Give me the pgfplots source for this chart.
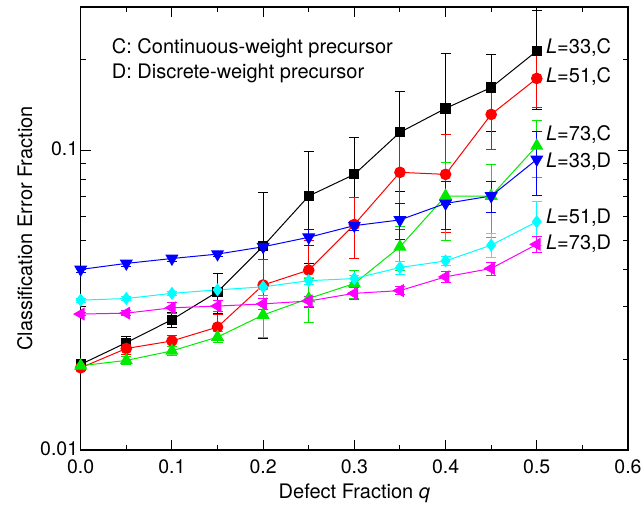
\documentclass[border=0pt]{standalone}
\usepackage{fontspec}
\setmainfont{TeX Gyre Heros}
\usepackage{pgfplots}
\pgfplotsset{compat=1.18}
\usepackage{pgfplotstable}

\definecolor{mygreen}{RGB}{0,235,0}
\definecolor{myblue}{RGB}{0,0,255}
\definecolor{myred}{RGB}{255,0,0}
\definecolor{mycyan}{RGB}{0,255,255}
\definecolor{mymagenta}{RGB}{255,0,255}

\pgfplotstableread{
x y e
0.00 0.0193 0.0005
0.05 0.0228 0.0011
0.10 0.0272 0.0015
0.15 0.0337 0.0051
0.20 0.0478 0.0242
0.25 0.0703 0.0285
0.30 0.0830 0.0275
0.35 0.1146 0.0420
0.40 0.1377 0.0720
0.45 0.1617 0.0460
0.50 0.2140 0.0770
}\dataA

\pgfplotstableread{
x y e
0.00 0.0188 0.0004
0.05 0.0218 0.0010
0.10 0.0231 0.0009
0.15 0.0257 0.0025
0.20 0.0355 0.0078
0.25 0.0398 0.0100
0.30 0.0565 0.0130
0.35 0.0843 0.0300
0.40 0.0830 0.0298
0.45 0.1315 0.0307
0.50 0.1734 0.0346
}\dataB

\pgfplotstableread{
x y e
0.00 0.0191 0.0004
0.05 0.0199 0.0006
0.10 0.0214 0.0008
0.15 0.0238 0.0010
0.20 0.0282 0.0045
0.25 0.0320 0.0053
0.30 0.0359 0.0039
0.35 0.0476 0.0080
0.40 0.0703 0.0205
0.45 0.0703 0.0190
0.50 0.1033 0.0220
}\dataC

\pgfplotstableread{
x y e
0.00 0.0400 0.0008
0.05 0.0419 0.0010
0.10 0.0435 0.0010
0.15 0.0450 0.0008
0.20 0.0476 0.0010
0.25 0.0512 0.0030
0.30 0.0560 0.0020
0.35 0.0585 0.0080
0.40 0.0664 0.0120
0.45 0.0703 0.0085
0.50 0.0931 0.0225
}\dataD

\pgfplotstableread{
x y e
0.00 0.0316 0.0005
0.05 0.0320 0.0005
0.10 0.0333 0.0006
0.15 0.0342 0.0006
0.20 0.0350 0.0008
0.25 0.0367 0.0010
0.30 0.0373 0.0010
0.35 0.0406 0.0020
0.40 0.0427 0.0015
0.45 0.0482 0.0045
0.50 0.0577 0.0095
}\dataE

\pgfplotstableread{
x y e
0.00 0.0284 0.0004
0.05 0.0286 0.0005
0.10 0.0298 0.0012
0.15 0.0302 0.0012
0.20 0.0307 0.0012
0.25 0.0314 0.0012
0.30 0.0333 0.0015
0.35 0.0340 0.0010
0.40 0.0378 0.0015
0.45 0.0403 0.0020
0.50 0.0485 0.0030
}\dataF

\begin{document}
\begin{tikzpicture}[font=\fontsize{20bp}{24bp}\selectfont]
\path[use as bounding box] (0,0) rectangle (642bp,510bp);
\begin{axis}[
  at={(80.7bp,60bp)}, anchor=south west,
  scale only axis, width=547.3bp, height=443bp,
  xmin=0, xmax=0.6, ymode=log, ymin=0.01, ymax=0.3,
  xtick={0,0.1,0.2,0.3,0.4,0.5,0.6},
  minor xtick={0.05,0.15,0.25,0.35,0.45,0.55},
  ytick={0.01,0.1}, yticklabels={0.01,0.1},
  minor ytick={0.02,0.03,0.04,0.05,0.06,0.07,0.08,0.09,0.2,0.3},
  /pgf/number format/assume math mode=true,
  tick label style={font=\fontsize{19.5bp}{23bp}\selectfont},
  xticklabel style={yshift=-6bp, /pgf/number format/.cd, fixed, fixed zerofill, precision=1},
  yticklabel style={xshift=1bp, yshift=1bp},
  label style={font=\fontsize{20bp}{24bp}\selectfont},
  tick align=inside, xtick pos=both, ytick pos=both,
  major tick length=10bp, minor tick length=5bp,
  every tick/.style={black, line width=1bp},
  axis line style={line width=1.5bp},
  xlabel={Defect Fraction \textit{q}},
  ylabel={Classification Error Fraction},
  xlabel style={yshift=-3bp},
  ylabel style={yshift=1bp},
  clip=false,
  error bars/error bar style={line width=1bp},
  error bars/error mark options={rotate=90, mark size=5bp, line width=1bp},
]
\addplot[black, line width=1bp, mark=square*, mark size=4.6bp, mark options={fill=black},
  error bars/.cd, y dir=both, y explicit] table[x=x, y=y, y error=e] {\dataA};
\addplot[myred, line width=1bp, mark=*, mark size=5.3bp, mark options={fill=myred},
  error bars/.cd, y dir=both, y explicit] table[x=x, y=y, y error=e] {\dataB};
\addplot[mygreen, line width=1bp, mark=triangle*, mark size=6.6bp, mark options={fill=mygreen},
  error bars/.cd, y dir=both, y explicit] table[x=x, y=y, y error=e] {\dataC};
\addplot[myblue, line width=1bp, mark=triangle*, mark size=6.6bp, mark options={fill=myblue, rotate=180},
  error bars/.cd, y dir=both, y explicit] table[x=x, y=y, y error=e] {\dataD};
\addplot[mycyan, line width=1bp, mark=diamond*, mark size=5.8bp, mark options={fill=mycyan},
  error bars/.cd, y dir=both, y explicit] table[x=x, y=y, y error=e] {\dataE};
\addplot[mymagenta, line width=1bp, mark=triangle*, mark size=6.6bp, mark options={fill=mymagenta, rotate=90},
  error bars/.cd, y dir=both, y explicit] table[x=x, y=y, y error=e] {\dataF};

\node[anchor=west, inner sep=0pt] at (axis cs:0.510,0.219) {\textit{L}=33,C};
\node[anchor=west, inner sep=0pt] at (axis cs:0.510,0.176) {\textit{L}=51,C};
\node[anchor=west, inner sep=0pt] at (axis cs:0.510,0.113) {\textit{L}=73,C};
\node[anchor=west, inner sep=0pt] at (axis cs:0.510,0.0912) {\textit{L}=33,D};
\node[anchor=west, inner sep=0pt] at (axis cs:0.510,0.0593) {\textit{L}=51,D};
\node[anchor=west, inner sep=0pt] at (axis cs:0.510,0.0486) {\textit{L}=73,D};
\node[anchor=west, inner sep=0pt] at (axis cs:0.034,0.219) {C: Continuous-weight precursor};
\node[anchor=west, inner sep=0pt] at (axis cs:0.034,0.1807) {D: Discrete-weight precursor};
\end{axis}
\end{tikzpicture}
\end{document}
